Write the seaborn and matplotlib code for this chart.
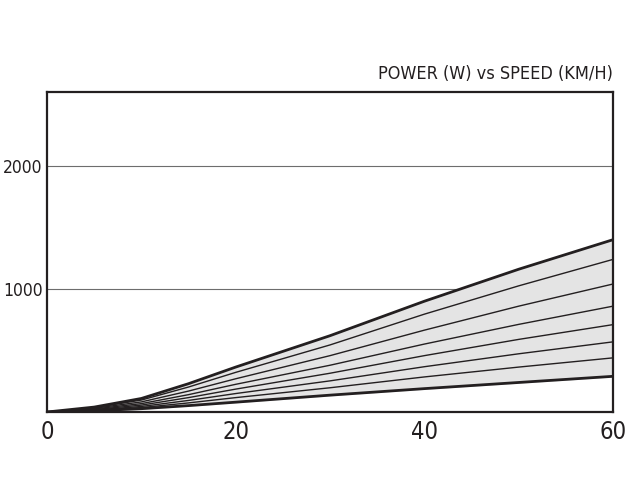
import numpy as np
import pandas as pd
import seaborn as sns
import matplotlib
matplotlib.use('Agg')
import matplotlib.pyplot as plt

# speed in km/h, power in W
speeds = [0, 5, 10, 15, 20, 30, 40, 50, 60]
power_1 = [0, 40, 110, 230, 365, 620, 900, 1160, 1400]
power_2 = [0, 35, 97, 203, 322, 545, 795, 1025, 1240]
power_3 = [0, 30, 82, 170, 270, 458, 665, 860, 1040]
power_4 = [0, 25, 68, 141, 225, 380, 552, 712, 860]
power_5 = [0, 20, 56, 117, 186, 315, 458, 590, 710]
power_6 = [0, 16, 45, 94, 150, 253, 368, 473, 570]
power_7 = [0, 13, 36, 74, 117, 197, 285, 365, 440]
power_8 = [0, 10, 27, 52, 80, 137, 190, 240, 290]

series = [power_1, power_2, power_3, power_4, power_5, power_6, power_7, power_8]
x_ticks = [0, 20, 40, 60]
y_ticks = [1000, 2000]

sns.set_style('white')
plt.rcParams['font.family'] = ['DejaVu Sans']
plt.rcParams['font.stretch'] = 'condensed'

ink = '#231f20'

fig = plt.figure(figsize=(6.4, 4.97), dpi=100)
ax = fig.add_axes([0.0734, 0.171, 0.8846, 0.644])

ax.fill_between(speeds, power_8, power_1, color='#e4e4e4', zorder=1)

for y in y_ticks:
    ax.axhline(y, color='#6d6d6d', lw=0.8, zorder=0.5)

for i, values in enumerate(series):
    outer = i == 0 or i == len(series) - 1
    df = pd.DataFrame({'speed': speeds, 'power': values})
    sns.lineplot(data=df, x='speed', y='power', ax=ax, color=ink,
                 lw=2.0 if outer else 1.0, zorder=3 if outer else 2)

ax.set_xlim(0, 60)
ax.set_ylim(0, 2600)
ax.set_xticks(x_ticks)
ax.set_yticks(y_ticks)
ax.set_xticklabels([str(t) for t in x_ticks], fontsize=17, color=ink, fontstretch='condensed')
ax.set_yticklabels([str(t) for t in y_ticks], fontsize=12.5, color=ink, fontstretch='condensed')
ax.tick_params(axis='y', length=0, pad=3)
ax.tick_params(axis='x', length=0, pad=6)
ax.set_xlabel('')
ax.set_ylabel('')
for s in ax.spines.values():
    s.set_color(ink)
    s.set_linewidth(1.6)

ax.set_title('POWER (W) vs SPEED (KM/H)', loc='right', fontsize=13, color=ink, pad=9,
             fontstretch='condensed')

fig.savefig('out.png', dpi=100)
